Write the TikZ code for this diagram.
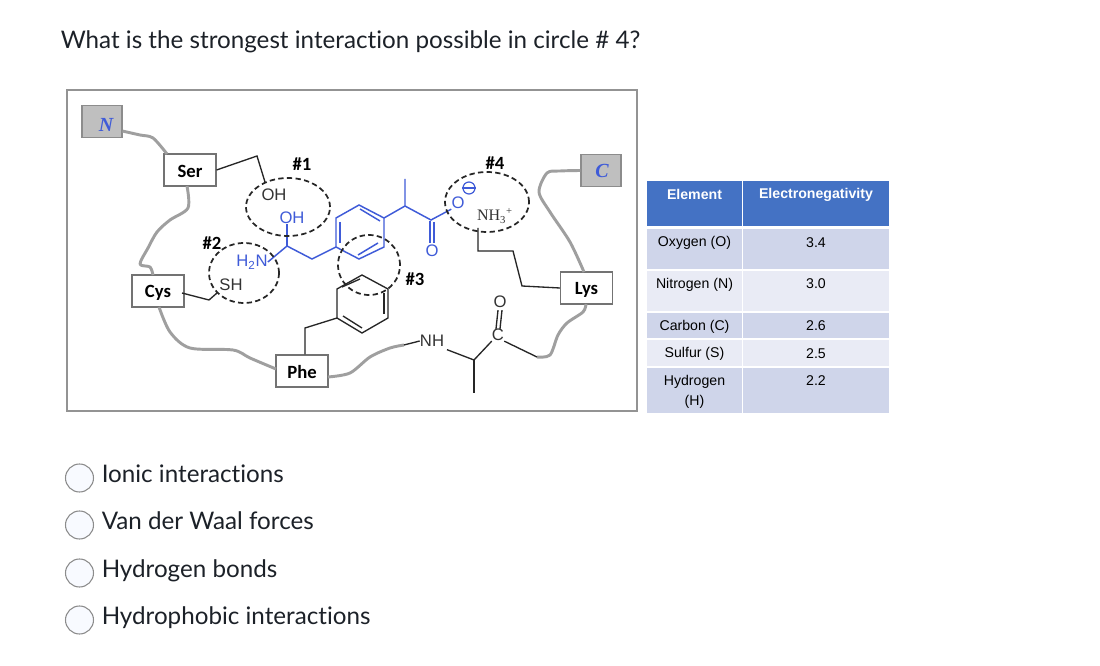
\documentclass[tikz,border=0pt]{standalone}
\usepackage{fontspec}
\setmainfont{Lato}[Ligatures={NoCommon,NoDiscretionary,NoRare}]
\newfontfamily\tablefont{Liberation Sans}
\newfontfamily\serifab{Liberation Serif}
\newfontfamily\labelfont{Carlito}
\usetikzlibrary{positioning, shapes.geometric, calc}
\definecolor{bondblue}{HTML}{3F5BD8}
\definecolor{headblue}{HTML}{4472C4}
\definecolor{rowdark}{HTML}{CFD5EA}
\definecolor{rowlight}{HTML}{E9EBF5}
\definecolor{inktext}{HTML}{1C2128}
\definecolor{radiofill}{HTML}{F8FAFF}

\begin{document}
\begin{tikzpicture}[
	x=0.75pt, y=-0.75pt,
	prompt/.style={anchor=base west, inner sep=0pt, text=inktext, font=\fontsize{18.15}{20}\selectfont},
	radiobtn/.style={circle, draw=gray!90, fill=radiofill, line width=0.8pt, minimum size=21pt, inner sep=0pt},
	residue/.style={rectangle, draw=black!55, fill=white, thick, minimum width=39pt, minimum height=24pt, inner sep=0pt},
	reslabel/.style={inner sep=0pt, font=\labelfont\fontsize{14}{15}\selectfont\bfseries},
	terminus/.style={rectangle, draw=black!45, fill=gray!50, thick, minimum width=30pt, minimum height=24pt, inner sep=0pt},
	termletter/.style={inner sep=0pt, text=bondblue, font=\serifab\fontsize{15}{16}\selectfont\bfseries\itshape},
	atomlabel/.style={inner sep=0pt, text=black!80, font=\tablefont\fontsize{12.5}{14}\selectfont},
	blueatom/.style={atomlabel, text=bondblue},
	backbone/.style={line width=2.2pt, draw=gray!75, line join=round},
	bond/.style={line width=1pt, draw=black!85},
	bluebond/.style={line width=1.1pt, draw=bondblue},
	contact/.style={ellipse, draw=black!85, line width=1.3pt, dash pattern=on 4pt off 2.5pt, inner sep=0pt},
	headcell/.style={rectangle, fill=headblue, inner sep=0pt},
	darkcell/.style={rectangle, fill=rowdark, inner sep=0pt},
	lightcell/.style={rectangle, fill=rowlight, inner sep=0pt},
	headtext/.style={inner sep=0pt, text=white, font=\tablefont\fontsize{10.6}{12}\selectfont\bfseries},
	celltext/.style={inner sep=0pt, text=black, align=center, font=\tablefont\fontsize{10.6}{15}\selectfont}
	]
	\useasboundingbox (0,0) rectangle (1100,666);
	\fill[white] (0,0) rectangle (1100,666);

	\node[prompt] (question) at (60.5,49) {What is the strongest interaction possible in circle \# 4?};

	% figure frame
	\node[draw=gray!85, line width=1.2pt, minimum width=427.5pt, minimum height=240.75pt, inner sep=0pt] (frame) at (352,250.5) {};

	\node[terminus] (nterm) at (102,121.5) {};
	\node[terminus] (cterm) at (601,170.5) {};
	\node[termletter] (nletter) at (106,125) {N};
	\node[termletter] (cletter) at (602,171) {C};
	\node[residue] (ser) at (190,170) {};
	\node[residue] (cys) at (158,291) {};
	\node[residue] (phe) at (302,371) {};
	\node[residue] (lys) at (586.5,288) {};
	\node[reslabel] (sername) at (190,171.5) {Ser};
	\node[reslabel] (cysname) at (158,293) {Cys};
	\node[reslabel] (phename) at (302,372.5) {Phe};
	\node[reslabel] (lysname) at (586.5,290) {Lys};

	\node[reslabel] (hash1) at (302,164) {\#1};
	\node[reslabel] (hash2) at (212,243) {\#2};
	\node[reslabel] (hash3) at (415,279) {\#3};
	\node[reslabel] (hash4) at (495,163) {\#4};

	% backbone
	\draw[backbone] plot[smooth, tension=0.5] coordinates {(nterm.-25) (140,135) (153,138) (167,154)};
	\draw[backbone] plot[smooth, tension=0.5] coordinates {(187,186) (188,208) (170,220) (157,232) (148,248) (140,264) (150,267) (153,275)};
	\draw[backbone] plot[smooth, tension=0.5] coordinates {(159,307) (170,332) (190,348) (233,350) (250,358) (276,369)};
	\draw[backbone] plot[smooth, tension=0.5] coordinates {(328,377) (350,373) (370,357) (390,348) (404,345)};
	\draw[backbone] plot[smooth, tension=0.5] coordinates {(537,357) (550,355) (558,335) (567,323) (583,312) (586,304)};
	\draw[backbone] plot[smooth, tension=0.5] coordinates {(584,272) (570,242) (550,212) (539,192) (547,173) (560,171) (cterm.west)};

	% peptide piece on the right
	\node[atomlabel] (nh) at (432,341) {NH};
	\node[atomlabel] (carb) at (498,335) {C};
	\node[atomlabel] (oxy) at (500,302) {O};
	\coordinate (alpha) at (474,360);
	\coordinate (methyl) at (474,393);
	\coordinate (tail) at (537,357);
	\draw[bond] (404,345) -- (nh.west);
	\draw[bond] ([xshift=2pt,yshift=-2pt]nh.south east) -- (alpha) -- (carb.south west);
	\draw[bond] (alpha) -- (methyl);
	\draw[bond] (carb.south east) -- (tail);
	\draw[bond] ([xshift=-1.5pt]carb.north) -- ([xshift=-1.5pt,yshift=-1.5pt]oxy.south);
	\draw[bond] ([xshift=1.5pt]carb.north) -- ([xshift=1.5pt,yshift=-1.5pt]oxy.south);

	% blue ligand
	\node[blueatom] (ohblue) at (292,218) {OH};
	\node[blueatom] (amine) at (252,262) {H\textsubscript{2}N};
	\node[blueatom] (ketone) at (432,251) {O};
	\node[blueatom] (oxide) at (458,203) {O};
	\node[circle, draw=bondblue, line width=0.9pt, minimum size=9pt, inner sep=0pt] (minus) at (469,188) {};
	\draw[bluebond] (minus.west) -- (minus.east);
	\coordinate (ra) at (336,247);
	\coordinate (rb) at (336,218);
	\coordinate (rc) at (359,205);
	\coordinate (rd) at (384,218);
	\coordinate (re) at (384,247);
	\coordinate (rf) at (359,259);
	\draw[bluebond] (ra) -- (rb) -- (rc) -- (rd) -- (re) -- (rf) -- cycle;
	\draw[bluebond] (340,222) -- (340,243);
	\draw[bluebond] (360,209) -- (380,221);
	\draw[bluebond] (358,255) -- (378,243);
	\draw[bluebond] (amine.east) -- (287,246) -- (312,259) -- (ra);
	\draw[bluebond] (ohblue.south -| 287,246) -- (287,246);
	\draw[bluebond] (rd) -- (405,206) -- (405,179);
	\draw[bluebond] (405,206) -- (431,220) -- (oxide.south west);
	\draw[bluebond] (430,221) -- ([xshift=-1.5pt,yshift=1.5pt]ketone.north);
	\draw[bluebond] (434,222) -- ([xshift=1.5pt,yshift=1.5pt]ketone.north);

	% Phe ring
	\coordinate (pa) at (362,275);
	\coordinate (pb) at (388,289);
	\coordinate (pc) at (388,318);
	\coordinate (pd) at (362,333);
	\coordinate (pe) at (337,318);
	\coordinate (pf) at (337,289);
	\draw[bond] (pa) -- (pb) -- (pc) -- (pd) -- (pe) -- (pf) -- cycle;
	\draw[bond] (384,293) -- (384,314);
	\draw[bond] (342,287) -- (360,279);
	\draw[bond] (343,316) -- (362,328);
	\draw[bond] (pe) -- (305,328) -- (phe.north -| 305,328);

	% other side chains
	\node[atomlabel] (oh) at (274,195) {OH};
	\node[atomlabel] (sh) at (231,285) {SH};
	\node[inner sep=0pt, text=black!80, font=\serifab\fontsize{12}{14}\selectfont] (ammonium) at (495,216) {NH\textsubscript{3}\textsuperscript{+}};
	\draw[bond] (ser.east) -- (257,156) -- (265,182);
	\draw[bond] (182,293) -- (209,300) -- (217,293);
	\draw[bond] (lys.west) -- (522,286) -- (513,251) -- (478,251) -- (478,228);

	% numbered circles
	\node[contact, minimum width=63pt, minimum height=43.5pt] (circ1) at (288,207) {};
	\node[contact, minimum width=52.5pt, minimum height=45pt] (circ2) at (244,273) {};
	\node[contact, minimum width=46.5pt, minimum height=45pt] (circ3) at (369,265) {};
	\node[contact, minimum width=63pt, minimum height=45pt] (circ4) at (487,202) {};

	% table
	\node[headcell, minimum width=71.25pt, minimum height=33.75pt] (h1) at (694.5,203.5) {};
	\node[headcell, minimum width=109.5pt, minimum height=33.75pt] (h2) at (816,203.5) {};
	\node[darkcell, minimum width=71.25pt, minimum height=30pt] (r1a) at (694.5,249) {};
	\node[darkcell, minimum width=109.5pt, minimum height=30pt] (r1b) at (816,249) {};
	\node[lightcell, minimum width=71.25pt, minimum height=30pt] (r2a) at (694.5,291) {};
	\node[lightcell, minimum width=109.5pt, minimum height=30pt] (r2b) at (816,291) {};
	\node[darkcell, minimum width=71.25pt, minimum height=18.75pt] (r3a) at (694.5,325.5) {};
	\node[darkcell, minimum width=109.5pt, minimum height=18.75pt] (r3b) at (816,325.5) {};
	\node[lightcell, minimum width=71.25pt, minimum height=19.5pt] (r4a) at (694.5,353) {};
	\node[lightcell, minimum width=109.5pt, minimum height=19.5pt] (r4b) at (816,353) {};
	\node[darkcell, minimum width=71.25pt, minimum height=33.75pt] (r5a) at (694.5,390.5) {};
	\node[darkcell, minimum width=109.5pt, minimum height=33.75pt] (r5b) at (816,390.5) {};

	\node[headtext] (helem) at (694.5,194.5) {Element};
	\node[headtext] (hneg) at (816,195) {Electronegativity};
	\node[celltext] (t1a) at (694.5,243) {Oxygen (O)};
	\node[celltext] (t1b) at (816,242.5) {3.4};
	\node[celltext] (t2a) at (694.5,284.5) {Nitrogen (N)};
	\node[celltext] (t2b) at (816,284) {3.0};
	\node[celltext] (t3a) at (694.5,326.5) {Carbon (C)};
	\node[celltext] (t3b) at (816,326) {2.6};
	\node[celltext] (t4a) at (694.5,354) {Sulfur (S)};
	\node[celltext] (t4b) at (816,353.5) {2.5};
	\node[celltext] (t5a) at (694.5,391.5) {Hydrogen\\(H)};
	\node[celltext] (t5b) at (816,381) {2.2};

	% answers
	\node[radiobtn] (radio1) at (79.5,478) {};
	\node[radiobtn] (radio2) at (79.5,525) {};
	\node[radiobtn] (radio3) at (79.5,573) {};
	\node[radiobtn] (radio4) at (79.5,620) {};
	\node[prompt] (ans1) at (101.5,483) {Ionic interactions};
	\node[prompt] (ans2) at (101.5,529.5) {Van der Waal forces};
	\node[prompt] (ans3) at (101.5,577) {Hydrogen bonds};
	\node[prompt] (ans4) at (101.5,624.5) {Hydrophobic interactions};
\end{tikzpicture}
\end{document}
